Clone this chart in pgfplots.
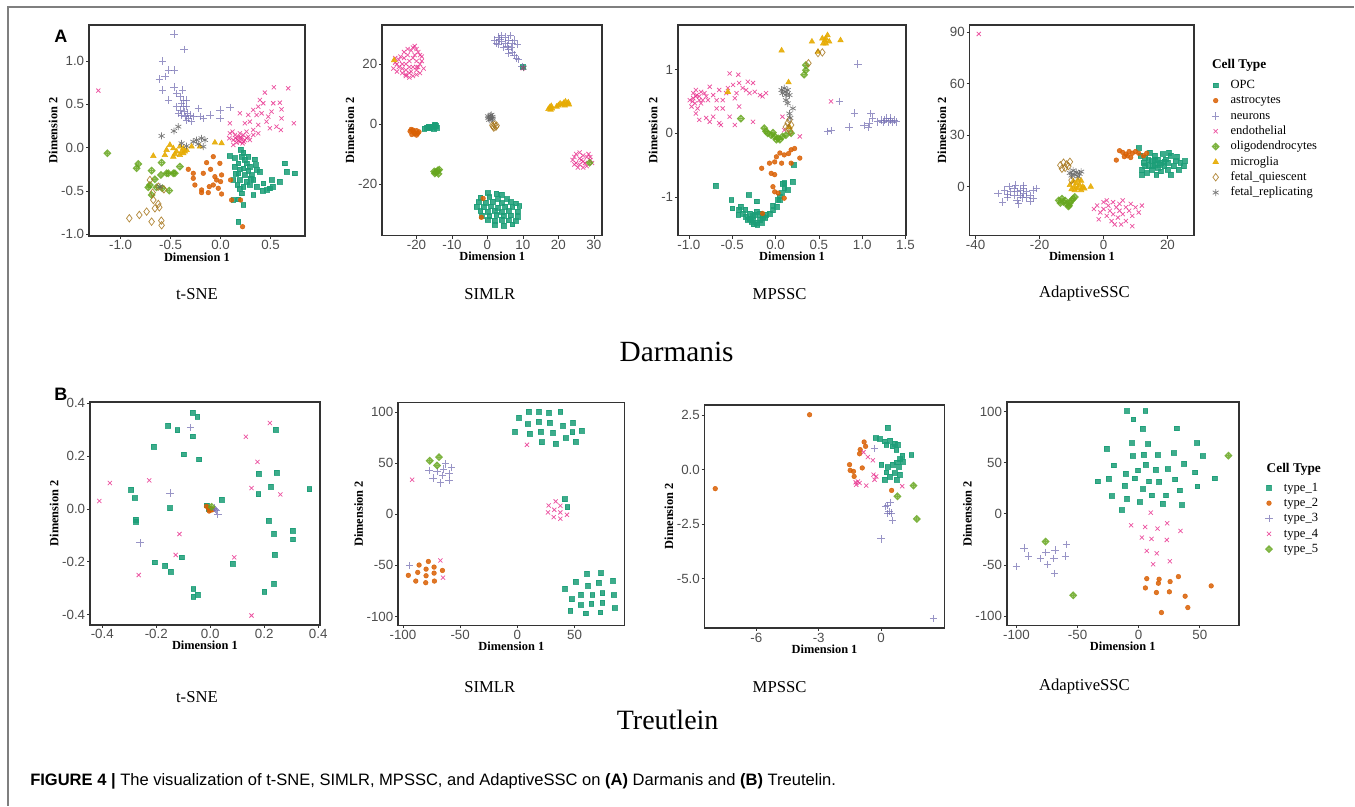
\documentclass[border=0pt]{standalone}
\usepackage{fontspec}
\setmainfont{Liberation Serif}
\newfontfamily\sansf{Liberation Sans}
\usepackage{pgfplots}
\pgfplotsset{compat=1.18}

\definecolor{c1}{HTML}{1B9E77}
\definecolor{c2}{HTML}{D95F02}
\definecolor{c3}{HTML}{7570B3}
\definecolor{c4}{HTML}{E7298A}
\definecolor{c5}{HTML}{66A61E}
\definecolor{c6}{HTML}{E6AB02}
\definecolor{c7}{HTML}{A6761D}
\definecolor{c8}{HTML}{666666}
\definecolor{axgray}{HTML}{333333}
\definecolor{tickgray}{HTML}{4D4D4D}
\definecolor{framegray}{HTML}{7F7F7F}

\pgfdeclareplotmark{dplus}{%
  \pgfpathmoveto{\pgfqpoint{0pt}{\pgfplotmarksize}}%
  \pgfpathlineto{\pgfqpoint{\pgfplotmarksize}{0pt}}%
  \pgfpathlineto{\pgfqpoint{0pt}{-\pgfplotmarksize}}%
  \pgfpathlineto{\pgfqpoint{-\pgfplotmarksize}{0pt}}%
  \pgfpathclose
  \pgfpathmoveto{\pgfqpoint{0pt}{\pgfplotmarksize}}%
  \pgfpathlineto{\pgfqpoint{0pt}{-\pgfplotmarksize}}%
  \pgfpathmoveto{\pgfqpoint{\pgfplotmarksize}{0pt}}%
  \pgfpathlineto{\pgfqpoint{-\pgfplotmarksize}{0pt}}%
  \pgfusepathqstroke
}

\newcommand\tickfont{\sansf\fontsize{10}{11}\selectfont}
\newcommand\labfont{\bfseries\fontsize{9.3}{10}\selectfont}
\newcommand\legfont{\fontsize{9.4}{11}\selectfont}

\pgfplotsset{
  rpanel/.style={
    scale only axis, anchor=south west,
    axis line style={draw=axgray, line width=1.3pt},
    tick pos=left, tick align=outside, major tick length=2.2pt,
    tick style={draw=axgray, line width=0.5pt},
    ticklabel style={font=\tickfont, text=tickgray},
    xticklabel style={inner ysep=1.2pt},
    yticklabel style={inner xsep=1.2pt},
    xlabel={Dimension 1}, ylabel={Dimension 2},
    label style={font=\labfont},
    xlabel style={yshift=3pt},
    ylabel style={yshift=-2pt},
    legend cell align=left,
  },
  rlegend/.style={
    legend image code/.code={%
      \path[draw=none,fill=none] (0cm,-2pt) rectangle (0.6cm,2pt);
      \draw[mark repeat=2,mark phase=2,##1] plot coordinates {(0cm,0cm) (0.3cm,0cm) (0.6cm,0cm)};},
    legend style={draw=none, fill=none, font=\legfont, anchor=north west,
      inner sep=0pt, row sep=1.3pt, nodes={inner sep=0.6pt, text height=7pt, text depth=2pt},
      /tikz/every odd column/.append style={column sep=2.1pt}},
  },
  s1/.style={only marks, mark=square*, mark size=1.8pt, color=c1, mark options={fill opacity=.85,draw opacity=.85}},
  s2/.style={only marks, mark=*, mark size=1.75pt, color=c2, mark options={fill opacity=.85,draw opacity=.85}},
  s3/.style={only marks, mark=+, mark size=2.8pt, color=c3, mark options={line width=0.55pt, draw opacity=.75}},
  s4/.style={only marks, mark=x, mark size=2.2pt, color=c4, mark options={line width=0.55pt, draw opacity=.8}},
  s5/.style={only marks, mark=dplus, mark size=2.4pt, color=c5, mark options={line width=0.9pt, draw opacity=.85}},
  s6/.style={only marks, mark=triangle*, mark size=2.4pt, color=c6, mark options={fill opacity=.9,draw opacity=.9}},
  s7/.style={only marks, mark=diamond, mark size=2.8pt, color=c7, mark options={line width=0.55pt, draw opacity=.85}},
  s8/.style={only marks, mark=asterisk, mark size=2.6pt, color=c8, mark options={line width=0.55pt, draw opacity=.85}},
}

\begin{document}
\begin{tikzpicture}
% page box and frame
\begin{scope}[x=0.75pt,y=-0.75pt]
\path (0,0) rectangle (1355,806);
\draw[framegray, line width=1.1pt] (8,806) -- (8,7) -- (1355,7);
\node[font=\sansf\bfseries\fontsize{13.5}{14}\selectfont] at (61,36) {A};
\node[font=\sansf\bfseries\fontsize{13.5}{14}\selectfont] at (61,395) {B};
\foreach \t/\xx in {t-SNE/197,SIMLR/490,MPSSC/780,AdaptiveSSC/1085}
  \node[font=\fontsize{12.5}{13}\selectfont] at (\xx,294) {\t};
\node[font=\fontsize{22}{24}\selectfont] at (677,352) {Darmanis};
\node[font=\fontsize{12.5}{13}\selectfont] at (197,697) {t-SNE};
\foreach \t/\xx in {SIMLR/490,MPSSC/780,AdaptiveSSC/1085}
  \node[font=\fontsize{12.5}{13}\selectfont] at (\xx,687) {\t};
\node[font=\fontsize{21}{23}\selectfont] at (668,720) {Treutlein};
\node[anchor=west, font=\bfseries\fontsize{10}{11}\selectfont] at (1208,65) {Cell Type};
\node[anchor=west, font=\bfseries\fontsize{10}{11}\selectfont] at (1262.7,469.3) {Cell Type};
\node[anchor=west, font=\sansf\fontsize{12.4}{14}\selectfont, inner sep=0pt] at (30,782)
  {\textbf{FIGURE 4 |} The visualization of t-SNE, SIMLR, MPSSC, and AdaptiveSSC on \textbf{(A)} Darmanis and \textbf{(B)} Treutelin.};
\end{scope}

% ---------------- A: t-SNE ----------------
\begin{axis}[rpanel, at={(66.75pt,-177pt)}, width=162pt, height=158.25pt,
  xmin=-1.317, xmax=0.843, ymin=-1.018, ymax=1.415,
  xtick={-1,-0.5,0,0.5}, xticklabels={-1.0,-0.5,0.0,0.5},
  ytick={-1,-0.5,0,0.5,1}, yticklabels={-1.0,-0.5,0.0,0.5,1.0}]
\addplot[s1] coordinates {(0.093,-0.096) (0.227,-0.058) (0.277,-0.104) (0.343,-0.135) (0.177,-0.181) (0.26,-0.181) (0.143,-0.219) (0.227,-0.238) (0.293,-0.219) (0.36,-0.258) (0.177,-0.296) (0.243,-0.315) (0.31,-0.315) (0.393,-0.277) (0.127,-0.373) (0.193,-0.373) (0.26,-0.392) (0.327,-0.373) (0.167,-0.431) (0.227,-0.45) (0.293,-0.431) (0.21,-0.527) (0.327,-0.546) (0.127,-0.604) (0.177,-0.596) (0.227,-0.662) (0.177,-0.854) (0.643,-0.181) (0.743,-0.296) (0.66,-0.277) (0.593,-0.392) (0.51,-0.373) (0.52,-0.45) (0.46,-0.488) (0.42,-0.496) (0.493,-0.469) (0.427,-0.412) (0.36,-0.45) (0.21,-0.104) (0.193,-0.25) (0.277,-0.265) (0.2,-0.02) (0.15,-0.3) (0.3,-0.36) (0.24,-0.14) (0.19,-0.47) (0.35,-0.2) (0.14,-0.12)};
\addplot[s2] coordinates {(-0.323,-0.25) (-0.14,-0.173) (-0.073,-0.104) (-0.1,-0.25) (-0.173,-0.296) (-0.273,-0.354) (-0.257,-0.431) (-0.19,-0.488) (-0.113,-0.45) (-0.04,-0.373) (0.01,-0.315) (-0.057,-0.335) (0,-0.392) (-0.023,-0.469) (0.01,-0.535) (-0.123,-0.519) (-0.19,-0.519) (-0.073,-0.431) (0.1,-0.373) (0.11,-0.604) (0.2,-0.604) (0.22,-0.912) (-0.273,-0.296) (-0.007,-0.181)};
\addplot[s3] coordinates {(-0.467,1.31) (-0.367,1.135) (-0.58,0.998) (-0.523,0.896) (-0.46,0.896) (-0.613,0.79) (-0.557,0.82) (-0.58,0.665) (-0.467,0.70) (-0.523,0.55) (-0.44,0.627) (-0.407,0.588) (-0.373,0.55) (-0.39,0.512) (-0.44,0.473) (-0.407,0.435) (-0.373,0.473) (-0.34,0.473) (-0.423,0.396) (-0.39,0.377) (-0.357,0.358) (-0.323,0.338) (-0.307,0.377) (-0.29,0.30) (-0.34,0.319) (-0.273,0.358) (-0.207,0.358) (-0.173,0.338) (-0.223,0.454) (-0.107,0.377) (-0.007,0.435) (-0.007,0.338) (0.093,0.465) (-0.34,0.55) (-0.38,0.665) (-0.36,0.42) (-0.33,0.4)};
\addplot[s4] coordinates {(-1.223,0.658) (0.443,0.635) (0.533,0.696) (0.677,0.685) (0.393,0.55) (0.427,0.512) (0.527,0.512) (0.593,0.519) (0.61,0.442) (0.61,0.338) (0.733,0.281) (0.56,0.242) (0.603,0.204) (0.493,0.223) (0.46,0.30) (0.377,0.262) (0.36,0.377) (0.327,0.435) (0.277,0.377) (0.293,0.30) (0.243,0.281) (0.193,0.396) (0.093,0.281) (0.327,0.204) (0.26,0.185) (0.377,0.165) (0.093,0.165) (0.087,0.108) (0.127,0.088) (0.143,0.146) (0.177,0.127) (0.21,0.108) (0.227,0.146) (0.193,0.069) (0.16,0.058) (0.243,0.088) (0.277,0.127) (0.127,0.031) (0.193,0.165) (0.293,0.088) (0.167,0.096) (0.22,0.05) (0.12,0.185) (0.327,0.146) (0.41,0.396) (0.51,0.415) (0.477,0.358) (0.377,0.473) (0.2,0.12) (0.15,0.11) (0.23,0.07) (0.18,0.08) (0.26,0.11)};
\addplot[s5] coordinates {(-1.133,-0.065) (-0.823,-0.188) (-0.84,-0.238) (-0.69,-0.265) (-0.59,-0.173) (-0.54,-0.296) (-0.473,-0.296) (-0.407,-0.219) (-0.597,-0.315) (-0.657,-0.365) (-0.707,-0.431) (-0.723,-0.458) (-0.64,-0.458) (-0.69,-0.546) (-0.583,-0.469) (-0.513,-0.496) (-0.523,-0.296) (-0.457,-0.296)};
\addplot[s6] coordinates {(-0.673,-0.096) (-0.557,-0.085) (-0.457,-0.073) (-0.54,-0.027) (-0.473,-0.008) (-0.407,0.012) (-0.373,-0.008) (-0.34,-0.027) (-0.44,-0.046) (-0.39,-0.046) (-0.357,-0.046) (-0.29,0.012) (-0.407,-0.085) (-0.473,-0.104) (-0.373,-0.065) (-0.057,0.058) (0.01,0.05) (-0.207,0.012) (-0.507,0.031)};
\addplot[s7] coordinates {(-0.707,-0.373) (-0.623,-0.45) (-0.567,-0.481) (-0.68,-0.519) (-0.673,-0.604) (-0.623,-0.65) (-0.613,-0.688) (-0.657,-0.7) (-0.74,-0.738) (-0.813,-0.777) (-0.913,-0.815) (-0.69,-0.854) (-0.593,-0.842) (-0.59,-0.896)};
\addplot[s8] coordinates {(-0.59,0.135) (-0.467,0.192) (-0.423,0.242) (-0.273,0.069) (-0.223,0.042) (-0.19,0.108) (-0.157,0.088) (-0.24,0.088) (-0.34,0.019) (-0.607,-0.45) (-0.39,0.05) (-0.173,0.012)};
\end{axis}

% ---------------- A: SIMLR ----------------
\begin{axis}[rpanel, at={(286.7pt,-176.8pt)}, width=165.3pt, height=158pt,
  xmin=-29.7, xmax=32.4, ymin=-37.2, ymax=33,
  xtick={-20,-10,0,10,20,30}, ytick={-20,0,20},
  xticklabels={-20,-10,0,10,20,30}, yticklabels={-20,0,20}]
\addplot[s1] coordinates {(-17.8,-1.6) (-17,-1.2) (-16.2,-1.4) (-15.5,-0.8) (-15,-0.5) (-14.5,-0.7) (-14.2,-1.2) (-15.2,-1.5) (-16.5,-0.9) (-14.8,-0.2) (0,-23) (2.5,-23.2) (4,-23.5) (-2,-24.5) (0.5,-24.3) (3,-24.8) (5.5,-25) (-2.5,-26) (-0.5,-26.2) (1.5,-25.8) (4,-26.3) (6.5,-26) (8,-26.4) (-3,-27.5) (-1,-27.7) (1,-27.4) (3,-27.8) (5,-27.5) (7,-27.6) (9,-27.3) (-2,-29) (0,-29.2) (2,-28.8) (4,-29.3) (6,-29) (8.5,-29.1) (-1.5,-30.5) (0.5,-30.7) (2.5,-30.3) (4.5,-30.6) (6.5,-30.4) (8.5,-30.8) (0,-32) (2,-32.2) (4,-31.8) (6,-32.1) (8,-32.3) (2,-33.5) (4.5,-33.8) (7,-33.4) (10,19)};
\addplot[s2] coordinates {(-21.8,-2.4) (-21,-2) (-20,-2.2) (-19.3,-2.6) (-20.5,-3.2) (-21.3,-3.5) (-20,-3.7) (-21.5,-1.8) (-19.6,-3.1) (-20.8,-2.7) (-1.2,-24.8) (-1.7,-31.1)};
\addplot[s3] coordinates {(2,28) (3,29) (4,27.5) (5,29) (6,28) (7,27) (6.5,29.5) (5.5,26) (4.5,25.5) (3,26.5) (6,25) (7,24) (7.5,23) (8.2,22) (8.8,21.5) (6.8,25.5) (4,29.5) (2.5,27) (5,27) (7.5,28) (8.5,26.5) (6,23.5) (3.5,28.3) (9.8,19.2)};
\addplot[s4] coordinates {(-26,22) (-25,19) (-24,17) (-23,16) (-22,17) (-21,16) (-20,16.5) (-19,17) (-19.5,19) (-18.5,21) (-19,23) (-20,25) (-20.5,26) (-21.5,24.5) (-22.5,23) (-23.5,24) (-24.5,22.5) (-25.5,20) (-26.5,18.5) (-23,20) (-22,21) (-21,22) (-20,21) (-21,19) (-22,19) (-23,18) (-24,20) (-20,19) (-21.5,17.5) (-22.5,25) (-19.5,24) (-25,21.5) (-23.5,22) (-18,18.5) (-20.5,23) (-24,18.5) (-26,20.5) (-22,15.5) (-20,18) (-21,25.5) (-19,20) (-23,16.5) (-25.5,17.5) (-18.5,22.5) (24,-12) (25,-10) (26,-9.5) (27,-10.5) (28,-11) (29,-12) (29.5,-13) (28,-14) (27,-14.5) (26,-13.5) (25,-13) (24.5,-11) (26,-11.5) (27,-12.5) (28.5,-10) (25.5,-14.5) (27.5,-13) (26.5,-12) (24.5,-13.5) (29,-11) (10,18.6)};
\addplot[s5] coordinates {(-14.8,-16.5) (-14,-15.5) (-13.6,-15.2) (-14.5,-16) (-13.8,-16.6) (-15,-15.8) (28.8,-12.9)};
\addplot[s6] coordinates {(17.2,5) (17.6,5.6) (18,6) (18.2,5.2) (17.8,4.8) (20,6.2) (20.5,6.8) (21,6.5) (21.5,7) (22,7.5) (22.5,6.8) (22.8,7.2) (21.8,6.2) (19.5,5.8) (23,6.5) (-26.3,21.3)};
\addplot[s7] coordinates {(1.4,-0.4) (2,-0.2) (2.4,-0.9) (1.8,-1.2) (2.6,-0.5) (1.6,-0.8)};
\addplot[s8] coordinates {(0.3,2) (0.8,2.8) (1.4,2.4) (1,1.6) (0.5,1.4) (1.5,1.8) (0.2,2.6) (1.1,3.1) (10.2,18.8)};
\end{axis}

% ---------------- A: MPSSC ----------------
\begin{axis}[rpanel, at={(508.7pt,-176.8pt)}, width=171.3pt, height=158pt,
  xmin=-1.127, xmax=1.508, ymin=-1.608, ymax=1.70,
  xtick={-1,-0.5,0,0.5,1,1.5}, xticklabels={-1.0,-0.5,0.0,0.5,1.0,1.5},
  ytick={-1,0,1}, yticklabels={-1,0,1}]
\addplot[s1] coordinates {(-0.69,-0.82) (-0.51,-1.05) (-0.50,-1.18) (-0.31,-0.97) (-0.22,-1.07) (-0.40,-1.15) (-0.42,-1.20) (-0.38,-1.26) (-0.34,-1.31) (-0.30,-1.34) (-0.26,-1.36) (-0.22,-1.40) (-0.18,-1.36) (-0.15,-1.31) (-0.11,-1.28) (-0.07,-1.26) (-0.03,-1.21) (0.01,-1.15) (-0.35,-1.20) (-0.30,-1.26) (-0.24,-1.28) (-0.18,-1.26) (-0.22,-1.23) (-0.28,-1.39) (-0.21,-1.44) (-0.32,-1.36) (0.03,-1.05) (0.05,-0.99) (0.07,-0.94) (0.10,-0.86) (0.14,-0.89) (0.08,-0.79) (0.20,-0.76) (0.10,-0.78) (0.21,-0.50) (0.05,-1.05) (-0.03,-1.13) (-0.43,-1.28) (-0.26,-1.30) (-0.16,-1.40) (-0.25,-1.43) (-0.12,-1.33)};
\addplot[s2] coordinates {(-0.16,-0.55) (-0.07,-0.47) (-0.01,-0.45) (0.01,-0.37) (0.05,-0.31) (0.10,-0.34) (0.15,-0.32) (0.18,-0.26) (0.22,-0.24) (0.28,-0.39) (0.07,-0.47) (-0.05,-0.63) (-0.01,-0.65) (-0.03,-0.84) (-0.01,-0.92) (0.03,-0.94) (0.10,-1.02) (-0.15,-1.26) (0.18,-0.47)};
\addplot[s3] coordinates {(0.95,1.09) (0.74,0.50) (0.91,0.32) (0.85,0.10) (0.60,0.03) (0.64,0.04) (1.02,0.12) (1.08,0.16) (1.10,0.31) (1.12,0.24) (1.18,0.18) (1.22,0.21) (1.26,0.21) (1.30,0.18) (1.33,0.20) (1.37,0.21) (1.28,0.24) (1.32,0.24) (1.35,0.17) (1.24,0.17) (1.39,0.18) (1.07,0.09)};
\addplot[s4] coordinates {(-0.99,0.52) (-0.95,0.63) (-0.92,0.68) (-0.88,0.58) (-0.93,0.47) (-0.97,0.42) (-0.90,0.39) (-0.84,0.52) (-0.86,0.65) (-0.80,0.58) (-0.76,0.73) (-0.78,0.52) (-0.72,0.60) (-0.68,0.52) (-0.65,0.68) (-0.61,0.52) (-0.57,0.63) (-0.53,0.94) (-0.49,0.76) (-0.42,0.79) (-0.45,0.63) (-0.38,0.71) (-0.32,0.81) (-0.26,0.79) (-0.34,0.68) (-0.30,0.63) (-0.24,0.65) (-0.18,0.60) (-0.15,0.58) (-0.11,0.63) (-0.43,0.92) (-0.55,0.71) (-0.47,0.55) (-0.42,0.42) (-0.53,0.26) (-0.61,0.39) (-0.68,0.39) (-0.72,0.26) (-0.80,0.24) (-0.88,0.21) (-0.92,0.31) (-0.76,0.18) (-0.65,0.16) (-0.47,0.13) (-0.63,0.13) (-0.26,0.18) (-0.95,0.55) (-0.91,0.60) (-0.88,0.52) (-0.96,0.50) (-0.92,0.58) (-0.86,0.47) (-0.82,0.63) (0.28,-0.05) (0.64,0.50) (0.08,0.26) (0.10,0.05)};
\addplot[s5] coordinates {(0.33,0.92) (0.35,1.07) (0.35,0.99) (-0.40,0.23) (-0.13,0.08) (-0.09,0.0) (-0.05,-0.03) (-0.01,-0.05) (0.03,-0.08) (0.01,-0.10) (0.05,-0.10) (-0.03,0.01) (-0.11,0.03) (0.12,-0.03) (0.18,0.0) (0.08,-0.05)};
\addplot[s6] coordinates {(0.07,1.30) (0.42,1.44) (0.49,1.28) (0.55,1.41) (0.58,1.49) (0.60,1.54) (0.57,1.46) (0.54,1.49) (0.58,1.41) (0.62,1.44) (0.75,1.46) (0.15,0.80) (-0.55,0.65) (0.16,0.10)};
\addplot[s7] coordinates {(0.14,0.16) (0.15,0.08) (0.12,0.10) (0.17,0.03) (0.18,0.13) (0.38,1.10) (0.49,1.26) (0.54,1.27) (0.16,0.21)};
\addplot[s8] coordinates {(0.07,0.68) (0.10,0.71) (0.14,0.68) (0.08,0.63) (0.12,0.60) (0.16,0.60) (0.12,0.52) (0.14,0.47) (0.20,0.39) (0.16,0.31) (0.17,0.24) (0.12,0.65)};
\end{axis}

% ---------------- A: AdaptiveSSC ----------------
\begin{axis}[rpanel, rlegend, at={(727.5pt,-176.8pt)}, width=168.75pt, height=158pt,
  xmin=-41.9, xmax=28.4, ymin=-28.5, ymax=94.2,
  xtick={-40,-20,0,20}, xticklabels={-40,-20,0,20},
  ytick={0,30,60,90}, yticklabels={0,30,60,90},
  legend style={at={(1.0431,0.7475)}}]
\addplot[s1] coordinates {(11,22.5) (12,10) (12.5,14) (13,17) (13.5,8) (14,12) (14.5,20) (15,15) (15,10) (16,13) (16,18) (16.5,7) (17,11) (17,16) (18,14) (18,9) (18.5,19) (19,12) (19.5,16) (20,10) (20,14) (21,18) (21,7) (22,12) (22.5,15) (23,17.5) (23.5,10) (24,14) (25,12) (25.5,15) (13,12) (15.5,12) (17.5,13) (19,14.5) (14,15.5) (16,15.5) (12,7) (20.5,20) (11.5,18)};
\addlegendentry{OPC}
\addplot[s2] coordinates {(4,15.5) (5,21) (6,20) (7,19) (7.5,18) (8,20.5) (6.5,17.5) (9,19.5) (10,20.5) (11,19.5) (12.5,18) (13.5,19.5) (8.5,17)};
\addlegendentry{astrocytes}
\addplot[s3] coordinates {(-33,-4) (-31,-2) (-30,-6) (-29,-3) (-28,-1) (-28,-5) (-27,-8) (-27,-3) (-26,-2) (-26,-5) (-25,-4) (-25,-1) (-24,-3) (-24,-6) (-23,-5) (-22,-2) (-21,-1) (-22,-7) (-29.5,0) (-26.5,-10) (-31.5,-9) (-25.5,-6.5) (-27.5,1) (-23,-8.5) (-25,0.5) (-30,-4.5)};
\addlegendentry{neurons}
\addplot[s4] coordinates {(-39,89) (-3,-13) (-2,-11) (-1,-15) (0,-9) (0,-13) (1,-17) (1.5,-11) (2,-14) (2.5,-20) (3,-9) (3,-16) (4,-12) (4.5,-18) (5,-10) (5,-14) (6,-16) (6,-8) (7,-12) (7,-20) (8,-14) (8.5,-10) (9,-17) (10,-12) (11,-15) (12,-11) (3.5,-22) (9,-23) (-1.5,-19) (5.5,-22) (1,-8)};
\addlegendentry{endothelial}
\addplot[s5] coordinates {(-14,-8) (-13,-7) (-12.5,-9) (-11.5,-10) (-11,-11.5) (-10.5,-9.5) (-10,-8) (-9.5,-7) (-9,-6) (-12,-8) (-13.5,-9.5) (-10.8,-11)};
\addlegendentry{oligodendrocytes}
\addplot[s6] coordinates {(-10.5,1) (-9.5,3) (-9,0) (-8.5,2) (-8,-1) (-7.5,1) (-7,3.5) (-6.5,0) (-6,-1) (-8,4) (-10,-1.5) (-4,0) (-9,-2) (-7,-2)};
\addlegendentry{microglia}
\addplot[s7] coordinates {(-13.5,12.5) (-12.5,14) (-11.5,13) (-12,11) (-11,12) (-10.5,14.5) (-13,10.5) (-10,3.8)};
\addlegendentry{fetal\_quiescent}
\addplot[s8] coordinates {(-10.5,8) (-9.5,9.5) (-9,7) (-8.5,8.5) (-7.5,7.5) (-8,6) (-10,6.5) (-7,8.8)};
\addlegendentry{fetal\_replicating}
\end{axis}

% ---------------- B: t-SNE ----------------
\begin{axis}[rpanel, at={(67.5pt,-468.75pt)}, width=172.5pt, height=167pt,
  xmin=-0.4457, xmax=0.4062, ymin=-0.4377, ymax=0.404,
  xtick={-0.4,-0.2,0,0.2,0.4}, xticklabels={-0.4,-0.2,0.0,0.2,0.4},
  ytick={-0.4,-0.2,0,0.2,0.4}, yticklabels={-0.4,-0.2,0.0,0.2,0.4}]
\addplot[s1] coordinates {(-0.065,0.365) (-0.048,0.349) (-0.156,0.315) (-0.122,0.298) (-0.065,0.275) (-0.21,0.236) (-0.098,0.207) (-0.041,0.188) (-0.293,0.073) (-0.28,0.041) (-0.149,0.003) (0.042,0.035) (-0.277,-0.04) (-0.275,-0.048) (-0.206,-0.202) (-0.167,-0.214) (-0.147,-0.237) (-0.105,-0.183) (-0.063,-0.303) (-0.063,-0.331) (-0.046,-0.325) (0.083,-0.206) (0.243,0.30) (0.179,0.133) (0.247,0.138) (0.225,0.085) (0.178,0.056) (0.216,-0.045) (0.236,-0.093) (0.305,-0.083) (0.307,-0.115) (0.238,-0.172) (0.236,-0.282) (0.2,-0.313) (0.367,0.075) (-0.014,0.014) (-0.007,0.001)};
\addplot[s2] coordinates {(-0.007,0.004) (0.001,-0.005) (0.009,-0.003) (-0.004,-0.008) (-0.014,0.01) (0.005,0.0)};
\addplot[s3] coordinates {(0.014,0.004) (0.023,-0.005) (0.028,-0.02) (-0.073,0.308) (-0.149,0.06) (-0.26,-0.128) (0.018,-0.002)};
\addplot[s4] coordinates {(0.132,0.273) (0.221,0.325) (0.175,0.178) (0.153,0.079) (0.26,0.055) (-0.226,0.108) (-0.372,0.098) (-0.411,0.03) (-0.114,-0.095) (-0.128,-0.174) (0.089,-0.183) (-0.265,-0.25) (0.153,-0.403)};
\addplot[s5] coordinates {(0.005,0.008)};
\end{axis}

% ---------------- B: SIMLR ----------------
\begin{axis}[rpanel, at={(298.7pt,-469.3pt)}, width=170pt, height=167.25pt,
  xmin=-104.3, xmax=93.8, ymin=-108.8, ymax=109.4,
  xtick={-100,-50,0,50}, xticklabels={-100,-50,0,50},
  ytick={-100,-50,0,50,100}, yticklabels={-100,-50,0,50,100}]
\addplot[s1] coordinates {(9.9,100.3) (18.9,100.7) (27.7,99.7) (37.6,100.3) (1.5,94.8) (9.0,88.3) (18.4,90.9) (28.3,89.9) (39.9,86.6) (48.6,89.9) (-2.0,80.7) (10.8,78.8) (20.4,81.1) (31.2,80.1) (42.2,74.6) (48.1,80.4) (56.2,82.0) (21.3,70.6) (33.5,69.3) (51.0,71.3) (60.9,-57.9) (73.1,-57.6) (51,-66.1) (61.8,-70) (70.9,-66.8) (83.6,-64.8) (41.7,-72.9) (55.6,-78.5) (65.5,-79.1) (74.3,-77.2) (84.2,-79.1) (47.5,-83.1) (55.3,-88.9) (64.7,-87.6) (74.3,-86.3) (85.1,-91.8) (46.3,-94.3) (59.7,-96.9) (72.5,-95.9) (41.4,14.8) (43.7,7.0)};
\addplot[s2] coordinates {(-95.3,-59.8) (-85.9,-49.7) (-77.8,-46.2) (-88.8,-65.4) (-87.1,-56.9) (-79.8,-53.7) (-79.8,-60.2) (-80.1,-67) (-72.8,-51.7) (-72.8,-57.6) (-72.5,-65.4) (-65.5,-55.0)};
\addplot[s3] coordinates {(-77.2,42.9) (-70.2,41.9) (-64.4,44.2) (-62.6,49.4) (-57.7,45.8) (-73.7,35.4) (-65.5,37.7) (-59.7,39.6) (-67.3,30.8) (-59.7,33.1) (-94.1,-50.4)};
\addplot[s4] coordinates {(8.4,68.0) (-92.0,33.8) (27.4,8.6) (33.5,12.6) (37.6,8.3) (26.8,1.8) (32.3,4.4) (37.6,1.8) (31.8,-2.8) (37.6,-4.4) (43.4,-0.5) (-67.3,-45.2) (-65,-62.1)};
\addplot[s5] coordinates {(-76.6,52.4) (-68.5,55.9) (-70.2,47.8)};
\end{axis}

% ---------------- B: MPSSC ----------------
\begin{axis}[rpanel, at={(528.75pt,-471.2pt)}, width=180pt, height=167.5pt,
  xmin=-8.48, xmax=3.04, ymin=-7.26, ymax=2.98,
  xtick={-6,-3,0}, xticklabels={-6,-3,0},
  ytick={-5,-2.5,0,2.5}, yticklabels={-5.0,-2.5,0.0,2.5}]
\addplot[s1] coordinates {(0.32,1.94) (-0.27,1.45) (-0.08,1.41) (0.16,1.30) (0.43,1.33) (0.64,1.19) (0.80,1.15) (0.24,1.15) (0.53,1.07) (0.72,0.92) (1.01,0.64) (1.44,0.67) (0.91,0.49) (0.75,0.34) (0.56,0.23) (0.32,0.12) (0.85,0.12) (0.24,-0.12) (0.64,-0.15) (0.16,-0.46) (0.75,-0.46) (0.40,-0.31) (0.88,-0.23) (0.0,0.23) (1.04,0.38)};
\addplot[s2] coordinates {(-3.44,2.52) (-7.97,-0.87) (-0.82,1.27) (-0.75,1.07) (-1.01,0.92) (-1.04,0.73) (-1.52,0.23) (-1.49,-0.03) (-1.33,-0.08) (-1.30,-0.31) (-0.91,0.08) (0.50,-0.95)};
\addplot[s3] coordinates {(-0.32,0.98) (0.29,-1.65) (0.43,-1.50) (0.37,-1.91) (0.48,-1.99) (0.32,-2.02) (0.53,-2.32) (0.0,-3.17) (2.51,-6.83) (0.21,-1.68)};
\addplot[s4] coordinates {(-0.85,0.80) (-0.64,0.58) (-0.40,0.43) (-0.37,-0.23) (-0.24,-0.31) (-0.32,-0.46) (-1.12,-0.54) (-1.04,-0.61) (-1.20,-0.69) (-0.72,-0.73) (1.01,-0.76) (-1.23,-0.58)};
\addplot[s5] coordinates {(1.55,-0.73) (0.78,-1.22) (1.71,-2.26)};
\end{axis}

% ---------------- B: AdaptiveSSC ----------------
\begin{axis}[rpanel, rlegend, at={(755.5pt,-469.3pt)}, width=174pt, height=167.5pt,
  xmin=-107.9, xmax=81.8, ymin=-109.3, ymax=109.3,
  xtick={-100,-50,0,50}, xticklabels={-100,-50,0,50},
  ytick={-100,-50,0,50,100}, yticklabels={-100,-50,0,50,100},
  legend style={at={(1.0806,0.648)}}]
\addplot[s1] coordinates {(-9.5,100.6) (5.3,100.6) (-4.5,92.5) (3.1,83.4) (30.9,83.7) (-26.4,63.8) (-5.4,69.3) (7.7,68.4) (47.8,69.3) (-20.3,47.5) (-5.1,56.6) (4.2,58.2) (15.4,57.6) (28.7,59.5) (37.2,49.1) (5.8,48.4) (-0.5,42.6) (14.0,43.2) (23.8,43.8) (46.2,40.6) (52.2,56.6) (62.0,34.7) (-33.7,31.8) (-24.5,34.4) (-10.8,39.3) (-3.2,34.7) (8.5,31.8) (16.7,31.5) (29.8,33.8) (-11.4,27.6) (3.6,24.3) (48.0,26.9) (33.4,23.0) (-22.1,17.5) (-9.5,14.8) (10.7,18.1) (22.4,18.1) (0.9,11.6) (19.4,10.0) (35.5,8.6) (-13.8,3.8)};
\addlegendentry{type\_1}
\addplot[s2] coordinates {(6.6,-63.5) (16.7,-64.1) (32.5,-61.5) (16.1,-68.0) (25.7,-66.4) (5.5,-72.6) (14.5,-77.1) (25.1,-76.4) (59.3,-70.6) (38.0,-80.7) (40.2,-91.8) (18.6,-96.7)};
\addlegendentry{type\_2}
\addplot[s3] coordinates {(-100,-51.4) (-93.7,-33.4) (-90.2,-41.3) (-80.4,-43.9) (-76,-38.0) (-74.6,-49.4) (-69.4,-43.9) (-68.4,-35.4) (-68.7,-58.6) (-59.9,-41.3) (-59,-30.2)};
\addlegendentry{type\_3}
\addplot[s4] coordinates {(9.9,1.1) (-6.2,-11.3) (5.3,-12.9) (15.4,-14.5) (23.3,-9.3) (34.2,-16.8) (2.6,-23.3) (10.5,-24.6) (23.0,-25.6) (6.6,-36.4) (14.8,-38.7) (11.8,-49.4) (25.5,-46.5)};
\addlegendentry{type\_4}
\addplot[s5] coordinates {(-76.2,-27.2) (-53.6,-79.8) (73.4,56.9)};
\addlegendentry{type\_5}
\end{axis}
\end{tikzpicture}
\end{document}
